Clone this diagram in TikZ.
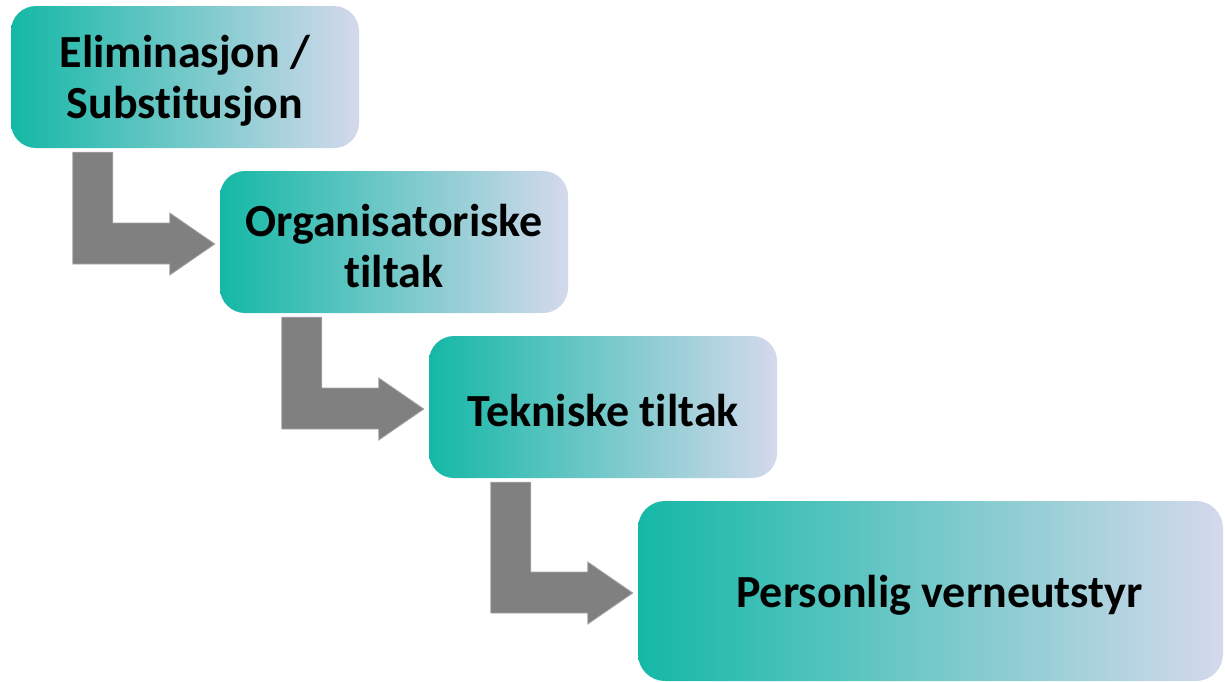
\documentclass[tikz,border=0pt]{standalone}
\usepackage{fontspec}
\setmainfont[RawFeature=-liga]{Carlito}
\usetikzlibrary{calc}
\definecolor{tealc}{RGB}{20,184,166}
\definecolor{lavc}{RGB}{212,217,236}
\definecolor{arrgray}{RGB}{128,128,128}
\definecolor{arredge}{RGB}{165,165,165}
\tikzset{
  stagebox/.style={rounded corners=25pt, left color=tealc, right color=lavc,
    minimum width=348pt, minimum height=142pt, align=center, inner sep=0pt,
    font=\fontsize{46}{51}\selectfont\bfseries, text=black},
  bentarrow/.style={fill=arrgray, draw=arredge, line width=0.8pt}
}
\newcommand\bentarr[2]{%
  \draw[bentarrow] let \p1=(#1.south west), \p2=(#2.west) in
    (\x1+62pt,\y1-4pt) -- (\x1+102pt,\y1-4pt) -- (\x1+102pt,\y2+19pt)
    -- (\x2-50pt,\y2+19pt) -- (\x2-50pt,\y2+29pt) -- (\x2-5pt,\y2-2pt)
    -- (\x2-50pt,\y2-33pt) -- (\x2-50pt,\y2-22pt) -- (\x1+62pt,\y2-22pt) -- cycle;}
\begin{document}
\begin{tikzpicture}[x=1pt,y=-1pt]
\useasboundingbox (0,0) rectangle (1225,681);
\node[stagebox] (b1) at (185,77) {\rule{0pt}{40pt}Eliminasjon /\\Substitusjon};
\node[stagebox] (b2) at (394,242) {\rule{0pt}{40pt}Organisatoriske\\tiltak};
\node[stagebox] (b3) at (603,407) {\rule{0pt}{40pt}Tekniske tiltak};
\node[stagebox, minimum width=585pt, minimum height=180pt, rounded corners=27pt] (b4) at (930.5,591) {\hspace*{18pt}\rule{0pt}{40pt}Personlig verneutstyr};
\bentarr{b1}{b2}
\bentarr{b2}{b3}
\bentarr{b3}{b4}
\end{tikzpicture}
\end{document}
